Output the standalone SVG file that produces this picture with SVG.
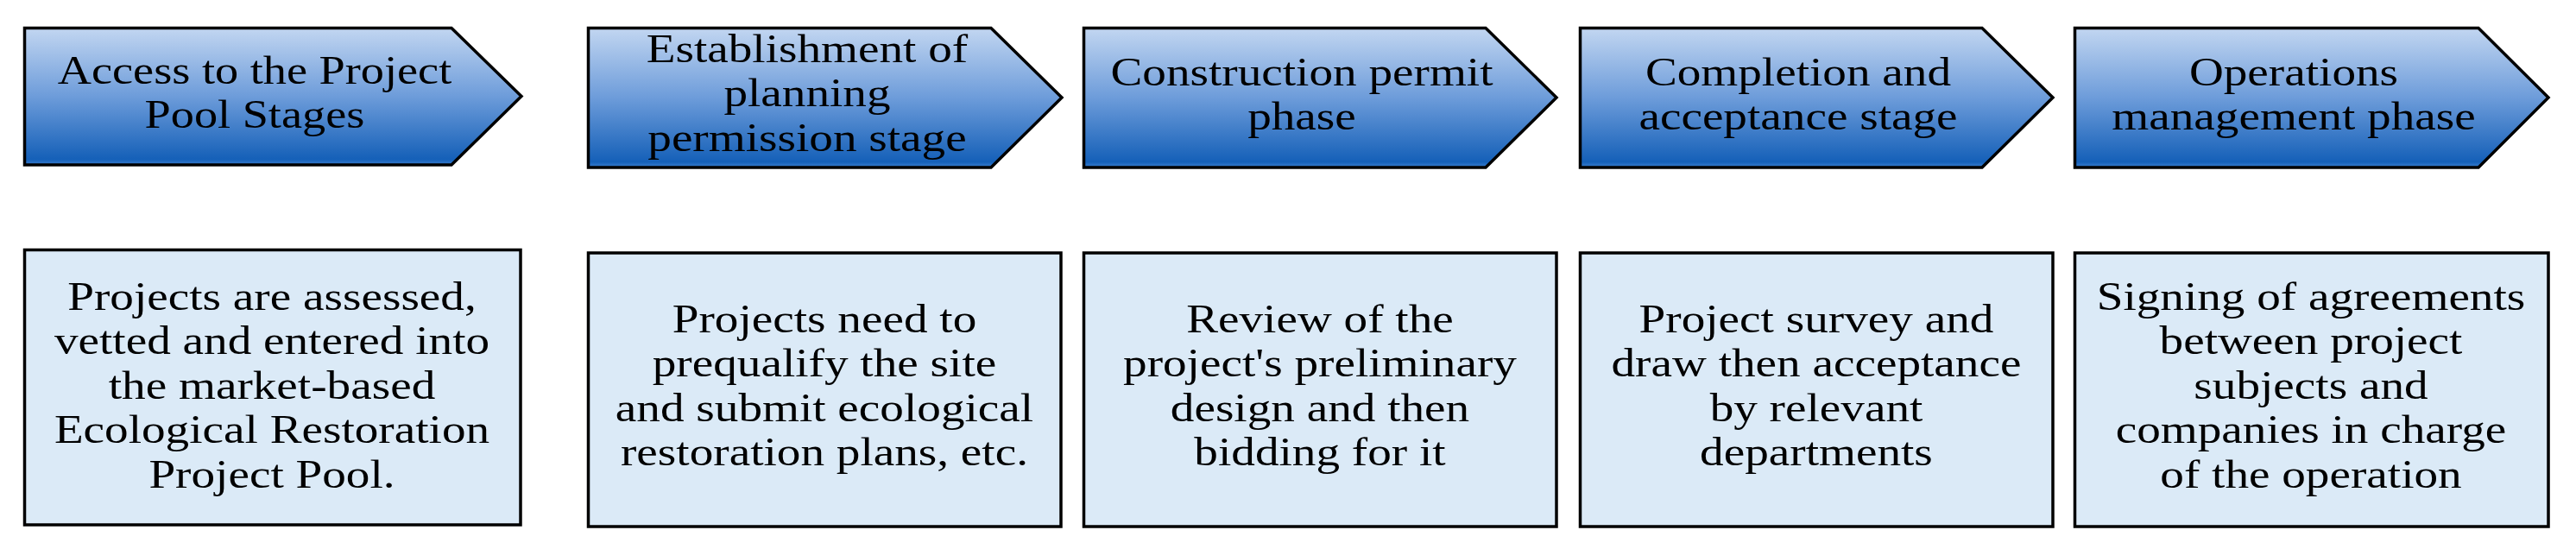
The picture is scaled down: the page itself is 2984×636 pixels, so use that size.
<svg xmlns="http://www.w3.org/2000/svg" width="2984" height="636" viewBox="0 0 2984 636">
<defs>
<linearGradient id="blue" x1="0" y1="0" x2="0" y2="1">
<stop offset="0" stop-color="#c2d6f1"/>
<stop offset="0.5" stop-color="#6d9cda"/>
<stop offset="0.96" stop-color="#1560b8"/>
<stop offset="1" stop-color="#3b7fd0"/>
</linearGradient>
</defs>
<style>
.arrow{fill:url(#blue);stroke:#000;stroke-width:3.5;stroke-linejoin:miter}
.box{fill:#dbeaf7;stroke:#000;stroke-width:3.5}
text{font-family:"Liberation Serif","Times New Roman",serif;font-size:46px;fill:#000;text-anchor:middle}
</style>
<rect width="2984" height="636" fill="#fff"/>
<g id="connectors"/>
<g id="stage1">
<polygon class="arrow" points="28.5,32.5 523,32.5 604,111.5 523,191 28.5,191"/>
<text transform="matrix(1.18 0 0 1 -53.1 0)"><tspan x="295" y="97">Access to the Project</tspan><tspan x="295" y="148.5">Pool Stages</tspan></text>
</g>
<g id="stage2">
<polygon class="arrow" points="681.5,32.5 1148,32.5 1230,113 1148,194 681.5,194"/>
<text transform="matrix(1.2 0 0 1 -187 0)"><tspan x="935" y="72">Establishment of</tspan><tspan x="935" y="123.5">planning</tspan><tspan x="935" y="175">permission stage</tspan></text>
</g>
<g id="stage3">
<polygon class="arrow" points="1255.5,32.5 1721,32.5 1803,113 1721,194 1255.5,194"/>
<text transform="matrix(1.2 0 0 1 -301.6 0)"><tspan x="1508" y="99">Construction permit</tspan><tspan x="1508" y="150.5">phase</tspan></text>
</g>
<g id="stage4">
<polygon class="arrow" points="1830.5,32.5 2296,32.5 2378,113 2296,194 1830.5,194"/>
<text transform="matrix(1.2 0 0 1 -416.6 0)"><tspan x="2083" y="99">Completion and</tspan><tspan x="2083" y="150.5">acceptance stage</tspan></text>
</g>
<g id="stage5">
<polygon class="arrow" points="2403.5,32.5 2871,32.5 2952,113 2871,194 2403.5,194"/>
<text transform="matrix(1.2 0 0 1 -531.4 0)"><tspan x="2657" y="99">Operations</tspan><tspan x="2657" y="150.5">management phase</tspan></text>
</g>
<g id="desc1">
<rect class="box" x="28.5" y="289.5" width="574.5" height="318.5"/>
<text transform="matrix(1.2 0 0 1 -63 0)"><tspan x="315" y="359">Projects are assessed,</tspan><tspan x="315" y="410.5">vetted and entered into</tspan><tspan x="315" y="462">the market-based</tspan><tspan x="315" y="513.5">Ecological Restoration</tspan><tspan x="315" y="565">Project Pool.</tspan></text>
</g>
<g id="desc2">
<rect class="box" x="681.5" y="293" width="547.5" height="317"/>
<text transform="matrix(1.2 0 0 1 -191 0)"><tspan x="955" y="385">Projects need to</tspan><tspan x="955" y="436.5">prequalify the site</tspan><tspan x="955" y="488">and submit ecological</tspan><tspan x="955" y="539.5">restoration plans, etc.</tspan></text>
</g>
<g id="desc3">
<rect class="box" x="1255.5" y="293" width="547.5" height="317"/>
<text transform="matrix(1.2 0 0 1 -305.8 0)"><tspan x="1529" y="385">Review of the</tspan><tspan x="1529" y="436.5">project's preliminary</tspan><tspan x="1529" y="488">design and then</tspan><tspan x="1529" y="539.5">bidding for it</tspan></text>
</g>
<g id="desc4">
<rect class="box" x="1830.5" y="293" width="547.5" height="317"/>
<text transform="matrix(1.2 0 0 1 -420.8 0)"><tspan x="2104" y="385">Project survey and</tspan><tspan x="2104" y="436.5">draw then acceptance</tspan><tspan x="2104" y="488">by relevant</tspan><tspan x="2104" y="539.5">departments</tspan></text>
</g>
<g id="desc5">
<rect class="box" x="2403.5" y="293" width="548.5" height="317"/>
<text transform="matrix(1.2 0 0 1 -535.4 0)"><tspan x="2677" y="359">Signing of agreements</tspan><tspan x="2677" y="410.5">between project</tspan><tspan x="2677" y="462">subjects and</tspan><tspan x="2677" y="513.5">companies in charge</tspan><tspan x="2677" y="565">of the operation</tspan></text>
</g>
</svg>
